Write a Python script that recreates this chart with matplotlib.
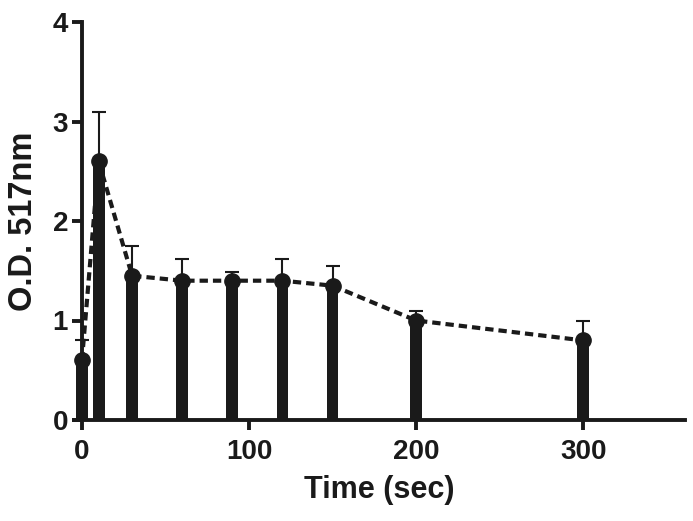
import matplotlib
matplotlib.use('Agg')
import matplotlib.pyplot as plt
import numpy as np

plt.rcParams['font.family'] = ['Liberation Sans', 'DejaVu Sans']
plt.rcParams['font.weight'] = 'bold'

# data
time_sec = [0, 10, 30, 60, 90, 120, 150, 200, 300]
od_517 = [0.6, 2.6, 1.45, 1.4, 1.4, 1.4, 1.35, 1.0, 0.8]
od_err = [0.2, 0.5, 0.3, 0.22, 0.09, 0.22, 0.2, 0.1, 0.2]

fig = plt.figure(figsize=(6.93, 5.21), dpi=100)
ax = fig.add_axes([73.6 / 693, 1 - 420 / 521, (685 - 73.6) / 693, 398 / 521])

ax.bar(time_sec, od_517, width=7, color='#1a1a1a', zorder=2)
ax.errorbar(time_sec, od_517, yerr=[np.zeros(len(od_err)), od_err],
            fmt='none', ecolor='#1a1a1a', elinewidth=1.5, capsize=5,
            capthick=1.5, zorder=1)
ax.plot(time_sec, od_517, color='#1a1a1a', linestyle=(0, (2, 1.2)),
        linewidth=3, marker='o', markersize=11, zorder=3)

ax.set_xlim(-5, 361)
ax.set_ylim(0, 4)
ax.set_xticks([0, 100, 200, 300])
ax.set_yticks([0, 1, 2, 3, 4])

for s in ['top', 'right']:
    ax.spines[s].set_visible(False)
ax.spines['left'].set_position(('data', 0))
for s in ['left', 'bottom']:
    ax.spines[s].set_linewidth(2.8)
    ax.spines[s].set_color('#1a1a1a')

ax.tick_params(axis='both', length=7, width=2.8, color='#1a1a1a',
               labelsize=20, labelcolor='#1a1a1a', pad=3)
ax.tick_params(axis='x', pad=7)

ax.set_xlabel('Time (sec)', fontsize=22, fontweight='bold', color='#1a1a1a', labelpad=7)
ax.set_ylabel('O.D. 517nm', fontsize=23.5, fontweight='bold', color='#1a1a1a', labelpad=10)

fig.savefig('out.png', dpi=100)
